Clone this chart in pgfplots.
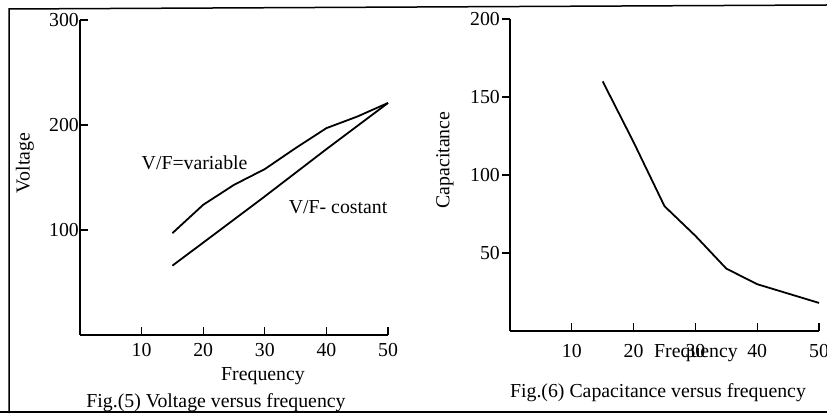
\documentclass[border=0pt]{standalone}
\usepackage{pgfplots}
\pgfplotsset{compat=1.18}
\usepackage{fontspec}
\setmainfont{Liberation Serif}
\begin{document}
\fontsize{19.8}{23}\selectfont
\begin{tikzpicture}
\useasboundingbox (0pt,0pt) rectangle (827pt,415pt);
% frame
\draw[line width=1.5pt] (9pt,2pt) -- (9pt,406pt) -- (827pt,410pt);
\draw[line width=1.2pt] (0pt,3pt) -- (827pt,3pt);
\pgfplotsset{
  myax/.style={
    scale only axis,
    axis lines*=left,
    axis line style={-, line width=1.5pt},
    every tick/.style={line width=1.3pt, black},
    major tick length=8pt,
    /pgf/number format/assume math mode=true,
    xmin=0, xmax=50, ymin=0,
    xtick={10,20,30,40,50},
    clip=false,
  },
  myline/.style={black, line width=1.8pt, no markers},
}
% left chart
\begin{axis}[myax,
  at={(80pt,80pt)}, anchor=south west,
  width=308pt, height=315pt,
  ymax=300, ytick={100,200,300},
  tick align=inside,
  yticklabel style={inner sep=1pt},
  xticklabel style={yshift=-2pt},
]
\addplot[myline] coordinates {(15,97) (20,124) (25,143) (30,158) (35,178) (40,197) (45,208) (50,221)};
\addplot[myline] coordinates {(15,66) (20,88) (30,132) (40,177) (50,221)};
\node at (axis cs:18.6,164) {V/F=variable};
\node at (axis cs:41.9,122) {V/F- costant};
\end{axis}
\node[rotate=90] at (25pt,252pt) {Voltage};
\node at (263pt,39pt) {Frequency};
\node at (216pt,12pt) {Fig.(5) Voltage versus frequency};
% right chart
\begin{axis}[myax,
  at={(510pt,84pt)}, anchor=south west,
  width=309pt, height=312pt,
  ymax=200, ytick={50,100,150,200},
  xtick align=inside, ytick align=outside,
  xticklabel style={yshift=-7pt},
  yticklabel style={inner sep=2pt},
]
\addplot[myline] coordinates {(15,160) (20,121) (25,80) (30,61) (35,40) (40,30) (45,24) (50,18)};
\end{axis}
\node[rotate=90] at (445pt,255pt) {Capacitance};
\node at (696pt,62pt) {Frequency};
\node at (658pt,22pt) {Fig.(6) Capacitance versus frequency};
\end{tikzpicture}
\end{document}
